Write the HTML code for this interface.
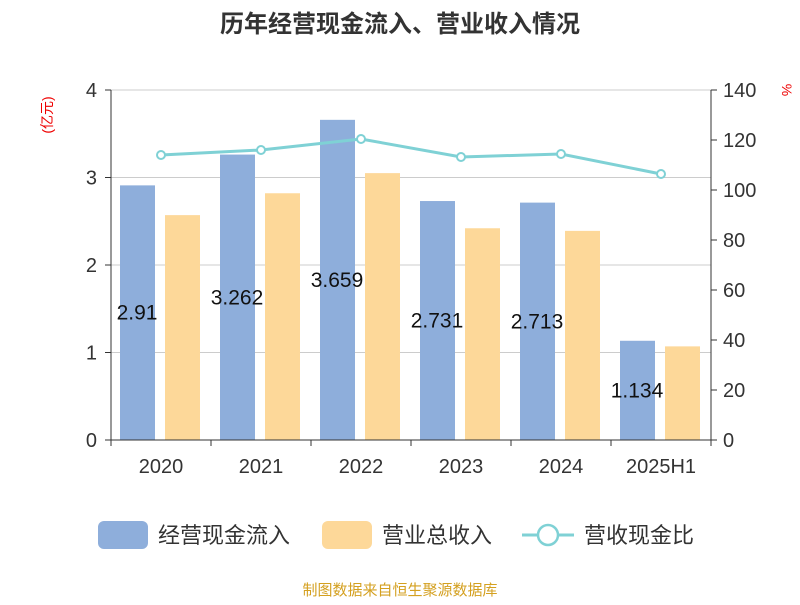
<!DOCTYPE html>
<html><head><meta charset="utf-8"><style>
body{margin:0;background:#fff;}
svg text{font-family:"Liberation Sans","Noto Sans CJK SC",sans-serif;}
</style></head><body>
<svg width="800" height="600">
<text x="400" y="32" text-anchor="middle" font-size="24" font-weight="bold" fill="#333">历年经营现金流入、营业收入情况</text>
<text transform="translate(52,115) rotate(-90)" text-anchor="middle" font-size="14" fill="#e00">(亿元)</text>
<text transform="translate(782,90) rotate(90)" text-anchor="middle" font-size="14" fill="#e00">%</text>
<g id="grid"></g><g id="bars"></g><g id="line"></g><g id="axes"></g>
<g>
<rect x="98" y="521" width="50" height="28" rx="6" fill="#8eaedb"/>
<text x="158" y="543" font-size="22" fill="#333">经营现金流入</text>
<rect x="322" y="521" width="50" height="28" rx="6" fill="#fdd899"/>
<text x="382" y="543" font-size="22" fill="#333">营业总收入</text>
<line x1="522" y1="535" x2="574" y2="535" stroke="#7fd1d5" stroke-width="3"/>
<circle cx="548" cy="535" r="10" fill="#fff" stroke="#7fd1d5" stroke-width="2.5"/>
<text x="584" y="543" font-size="22" fill="#333">营收现金比</text>
</g>
<text x="400" y="595" text-anchor="middle" font-size="15" fill="#d4a020">制图数据来自恒生聚源数据库</text>
</svg>
<script>
const categories=["2020","2021","2022","2023","2024","2025H1"];
const cashInflow=[2.91,3.262,3.659,2.731,2.713,1.134];
const cashLabels=["2.91","3.262","3.659","2.731","2.713","1.134"];
const revenue=[2.57,2.82,3.05,2.42,2.39,1.07];
const ratio=[114,116,120.4,113.2,114.4,106.4];
const leftTicks=[0,1,2,3,4];
const rightTicks=[0,20,40,60,80,100,120,140];
const NS="http://www.w3.org/2000/svg";
const X0=111,X1=711,Y0=440,Y1=90;
const bw=(X1-X0)/categories.length;
const yL=v=>Y0-(v/4)*(Y0-Y1);
const yR=v=>Y0-(v/140)*(Y0-Y1);
function mk(p,t,a){const e=document.createElementNS(NS,t);for(const k in a)e.setAttribute(k,a[k]);document.getElementById(p).appendChild(e);return e;}
leftTicks.forEach(v=>{
 if(v>0){const g=mk("grid","line",{x1:X0,x2:X1,y1:yL(v),y2:yL(v),stroke:"#ccc","stroke-width":1});
 
 }
 const t=mk("axes","text",{x:X0-14,y:yL(v)+7,"text-anchor":"end","font-size":20,fill:"#333"});t.textContent=v;
 
 
 mk("axes","line",{x1:X0-6,x2:X0,y1:yL(v),y2:yL(v),stroke:"#333"});
});
rightTicks.forEach(v=>{
 const t=mk("axes","text",{x:X1+12,y:yR(v)+7,"font-size":20,fill:"#333"});t.textContent=v;
 
 
 mk("axes","line",{x1:X1,x2:X1+6,y1:yR(v),y2:yR(v),stroke:"#333"});
});
mk("axes","line",{x1:X0,x2:X0,y1:Y1,y2:Y0,stroke:"#333"});
mk("axes","line",{x1:X1,x2:X1,y1:Y1,y2:Y0,stroke:"#333"});
mk("axes","line",{x1:X0,x2:X1,y1:Y0,y2:Y0,stroke:"#333"});
categories.forEach((c,i)=>{
 const x=X0+i*bw;
 mk("axes","line",{x1:x,x2:x,y1:Y0,y2:Y0+6,stroke:"#333"});
 if(i==categories.length-1)mk("axes","line",{x1:X1,x2:X1,y1:Y0,y2:Y0+6,stroke:"#333"});
 const t=mk("axes","text",{x:x+bw/2,y:Y0+33,"text-anchor":"middle","font-size":20,fill:"#333"});t.textContent=c;
 
 
 const b=mk("bars","rect",{x:x+9,y:yL(cashInflow[i]),width:35,height:Y0-yL(cashInflow[i]),fill:"#8eaedb"});
 
 
 const r=mk("bars","rect",{x:x+54,y:yL(revenue[i]),width:35,height:Y0-yL(revenue[i]),fill:"#fdd899"});
 
 
 const l=mk("bars","text",{x:x+26,y:(yL(cashInflow[i])+Y0)/2+7,"text-anchor":"middle","font-size":21,fill:"#111"});l.textContent=cashLabels[i];
 
 
});
const pts=ratio.map((v,i)=>[X0+i*bw+bw/2,yR(v)]);
const pl=mk("line","polyline",{points:pts.map(p=>p.join(",")).join(" "),fill:"none",stroke:"#7fd1d5","stroke-width":3});


pts.forEach((p,i)=>{const c=mk("line","circle",{cx:p[0],cy:p[1],r:4,fill:"#fff",stroke:"#7fd1d5","stroke-width":2});
 
 });
</script>
</body></html>
